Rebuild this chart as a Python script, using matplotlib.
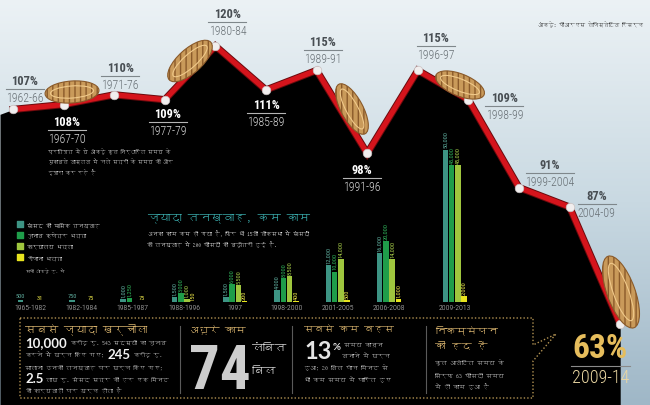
import numpy as np
import matplotlib
matplotlib.use('Agg')
import matplotlib.pyplot as plt
from matplotlib import font_manager, transforms
from matplotlib.ft2font import FT2Font
from matplotlib.colors import LinearSegmentedColormap
from matplotlib.patches import Ellipse

# sitting time vs scheduled time, per Lok Sabha
terms = ['1962-66', '1967-70', '1971-76', '1977-79', '1980-84', '1985-89', '1989-91',
         '1991-96', '1996-97', '1998-99', '1999-2004', '2004-09', '2009-14']
pct = [107, 108, 110, 109, 120, 111, 115, 98, 115, 109, 91, 87, 63]

# MP pay and allowances (Rs.)
periods = ['1965-1982', '1982-1984', '1985-1987', '1988-1996', '1997',
           '1998-2000', '2001-2005', '2006-2008', '2009-2013']
salary = [500, 750, 1000, 1500, 1500, 4000, 12000, 16000, 50000]
constituency = [0, 0, 1250, 3000, 6000, 8000, 10000, 20000, 45000]
office = [0, 0, 0, 1000, 5500, 8500, 14000, 14000, 45000]
daily = [31, 75, 75, 150, 200, 400, 500, 1000, 2000]
series_names = ['सांसद की मासिक तनख्वाह', 'चुनाव क्षेत्र भत्ता', 'कार्यालय भत्ता', 'रोजाना भत्ता']


def find_font(cp):
    # first installed font that has the glyph
    for f in font_manager.fontManager.ttflist:
        try:
            if FT2Font(f.fname).get_char_index(cp):
                return f.name
        except Exception:
            continue
    return None


def pick_condensed():
    names = {f.name for f in font_manager.fontManager.ttflist}
    for n in ['Liberation Sans Narrow', 'Roboto Condensed', 'Open Sans Condensed',
              'DejaVu Sans Condensed', 'Noto Sans Condensed']:
        if n in names:
            return n, 'normal'
    for n in ['Noto Sans', 'DejaVu Sans', 'Open Sans', 'Roboto']:
        for f in font_manager.fontManager.ttflist:
            if f.name == n and 'condensed' in str(f.stretch):
                return n, 'condensed'
    return 'Roboto', 'normal'


deva = find_font(0x0915)
HI = [deva, 'DejaVu Sans'] if deva else ['DejaVu Sans']
cname, cstretch = pick_condensed()
NARROW = dict(family=[cname, 'DejaVu Sans'], fontstretch=cstretch)

W, H = 650, 406
fig = plt.figure(figsize=(6.5, 4.06), dpi=100)

# sky
bg = fig.add_axes([0, 0, 1, 1])
bg.set_zorder(0)
sky = LinearSegmentedColormap.from_list('sky', ['#ecf2f5', '#c9d9e2', '#9fb7c7'])
bg.imshow(np.linspace(0, 1, 256)[:, None], cmap=sky, aspect='auto', extent=[0, W, H, 0])
bg.set_xlim(0, W)
bg.set_ylim(H, 0)
bg.axis('off')

# line chart
ax = fig.add_axes([0, 0, 1, 1])
ax.set_zorder(1)
ax.patch.set_alpha(0)
ax.axis('off')
x0, xstep, y0, ystep = 13, 50.6, 47, 4.88
ax.set_xlim(-x0 / xstep, (W - x0) / xstep)
ax.set_ylim(120 - (H - y0) / ystep, 120 + y0 / ystep)
xi = np.arange(len(pct))
ax.fill_between(np.r_[ax.get_xlim()[0], xi], np.r_[pct[0] - 1, pct], ax.get_ylim()[0],
                color='black', lw=0)
ax.plot(xi, pct, color='#6a0a0d', lw=5.2, solid_joinstyle='miter', zorder=3)
ax.plot(xi, pct, color='#d5141c', lw=3.8, solid_joinstyle='miter', zorder=4)
ax.scatter(xi, pct, s=38, color='#f1eeee', edgecolor='#c9c2c2', lw=0.5, zorder=6)

lab_off = [(12, -20), (3, 25), (6, -19), (3, 22), (12, -24), (0, 23), (6, -20),
           (-5, 25), (18, -24), (36, 6), (31, -15), (27, -3), (-20, 42)]
style = ['d', 'l', 'd', 'l', 'd', 'l', 'd', 'l', 'd', 'd', 'd', 'd', 'g']
cols = {'d': ('#484e53', '#687075', '#7f878b', 9, 8.5),
        'l': ('#ffffff', '#d9d9d9', '#b5b5b5', 9, 8.5),
        'g': ('#e6bd5c', '#ead7a2', '#8a8a8a', 24, 13)}
for i, (t, p) in enumerate(zip(terms, pct)):
    dx, dy = lab_off[i]
    c_pct, c_yr, c_ul, s_pct, s_yr = cols[style[i]]
    ax.annotate(f'{p}%', (i, p), xytext=(dx, -dy + 2), textcoords='offset pixels', ha='center',
                va='bottom', fontsize=s_pct, fontweight='bold', color=c_pct, zorder=7, **NARROW)
    ax.annotate(t, (i, p), xytext=(dx, -dy - 2), textcoords='offset pixels', ha='center',
                va='top', fontsize=s_yr, fontweight='light', color=c_yr, zorder=7, **NARROW)
    hw = (len(t) * (5.0 if style[i] != 'g' else 8.0) + 3) / 2 / xstep
    tr = transforms.offset_copy(ax.transData, fig=fig, x=dx, y=-dy, units='dots')
    ax.plot([i - hw, i + hw], [p, p], transform=tr, color=c_ul, lw=0.8, zorder=7)

# bars
bx = fig.add_axes([0, 0, 1, 1])
bx.set_zorder(2)
bx.patch.set_alpha(0)
bx.axis('off')
base, bscale, g0, gstep = 303, 0.00305, 30, 51.3
bx.set_xlim(-g0 / gstep, (W - g0) / gstep)
bx.set_ylim(-(H - base) / bscale, base / bscale)
gpos = np.arange(len(periods), dtype=float)
gpos[-1] += 0.28
bar_cols = ['#3d9484', '#1f9d4a', '#9fc63e', '#e8e41e']
lab_cols = ['#5fae9f', '#2fb35a', '#a9cf4a', '#eee84a']
slot, bw = 0.122, 0.108
for k, vals in enumerate([salary, constituency, office, daily]):
    off = (k - 1.5) * slot
    for g, v in enumerate(vals):
        if not v:
            continue
        bx.bar(gpos[g] + off, v, bw, color=bar_cols[k], lw=0)
        rot = 0 if (g < 3 and v < 1000) else 90
        bx.annotate(f'{v:,}', (gpos[g] + off, v), xytext=(0, 2), textcoords='offset pixels',
                    ha='center', va='bottom', rotation=rot, fontsize=4.6, color=lab_cols[k], **NARROW)
for g, p in zip(gpos, periods):
    bx.annotate(p, (g, 0), xytext=(0, -2), textcoords='offset pixels', ha='center', va='top',
                fontsize=5.6, fontweight='light', color='#cccccc', **NARROW)

# overlay: text and decoration in pixel space
tx = fig.add_axes([0, 0, 1, 1])
tx.set_zorder(3)
tx.patch.set_alpha(0)
tx.set_xlim(0, W)
tx.set_ylim(H, 0)
tx.axis('off')

for cx, cy, w, h, a in [(72, 93, 54, 22, -4), (190, 62, 56, 24, -42), (352, 110, 56, 22, 62),
                        (460, 86, 52, 22, 22), (621, 293, 76, 28, 70)]:
    tx.add_patch(Ellipse((cx, cy), w, h, angle=a, fc='#c99a5a', ec='#8a5a2a', lw=0.8, hatch='|||'))
    tx.add_patch(Ellipse((cx, cy), w * 0.8, h * 0.55, angle=a, fc='none', ec='#f0c98a', lw=0.8))

tx.text(643, 25, 'आंकड़े: पीआरएस लेजिस्लेटिव रिसर्च', ha='right', va='center', fontsize=3.8,
        family=HI, color='#222222')

for j, line in enumerate(['प्रतिशत में ये आंकड़े कुल निर्धारित समय के',
                          'मुकाबले वास्तव में चले सत्रों के समय की ओर',
                          'इशारा कर रहे हैं']):
    tx.text(48, 152 + j * 10.5, line, va='center', fontsize=3.6, family=HI, color='#e8e8e8')

# legend
for j, name in enumerate(series_names):
    y = 225 + j * 11
    tx.scatter(20, y, s=14, marker='s', color=bar_cols[j])
    tx.text(27, y, name, va='center', fontsize=3.9, family=HI, color='#f0f0f0')
tx.text(25, 271, 'सभी आंकड़े रु. में', va='center', fontsize=3.2, style='italic', family=HI,
        color='#dddddd')

tx.text(147, 218, 'ज्यादा तनख्वाह, कम काम', va='center', fontsize=8.4, family=HI, color='#39a9aa')
tx.text(147, 234, 'अनका काम कम हो गया है, फिर भी 15वीं लोकसभा में सांसदों', va='center',
        fontsize=3.9, family=HI, color='#f0f0f0')
tx.text(147, 245, 'की तनख्वाह में 200 फीसदी की बढ़ोतरी हुई है.', va='center',
        fontsize=3.9, family=HI, color='#f0f0f0')

# bottom panel frame with pointer
frame = [(20, 319), (533, 319), (533, 346), (556, 335), (533, 362), (533, 399), (20, 399), (20, 319)]
tx.plot(*zip(*frame), color='#b39353', lw=1, ls=(0, (1, 1.5)))
for sx in [180, 292, 426]:
    tx.plot([sx, sx], [327, 394], color='#5a5a5a', lw=0.8)

GOLD = '#d9b46e'
BODY = '#d6d6d6'
r = fig.canvas.get_renderer()


def runs(x, y, parts, gap=3):
    for s, big in parts:
        if big:
            t = tx.text(x, y, s, va='center', fontsize=9.5, fontweight='bold',
                        family=['Lato', 'DejaVu Sans'], color='#f2f2f2')
        else:
            t = tx.text(x, y, s, va='center', fontsize=4.2, family=HI, color=BODY)
        x += t.get_window_extent(r).width + gap
    return x


tx.text(25, 329, 'सबसे ज्यादा खर्चीला', va='center', fontsize=8, family=HI, color=GOLD)
runs(25, 343, [('10,000', True), ('करोड़ रु. 543 सदस्यों का चुनाव', False)])
runs(25, 355, [('करने में खर्च किए गए;', False), ('245', True), ('करोड़ रु.', False)])
runs(25, 367, [('सालाना उनकी तनख्वाह पर खर्च किए गए;', False)])
runs(25, 379, [('2.5', True), ('लाख रु. संसद सत्र की हर एक मिनट', False)])
runs(25, 391, [('की कार्यवाही पर खर्च होता है', False)])

tx.text(188, 330, 'अधूरे काम', va='center', fontsize=7.6, family=HI, color=GOLD)
tx.text(189, 372, '74', va='center', fontsize=44, fontweight='bold', color='#cdcdcd', **NARROW)
tx.text(252, 349, 'लंबित', va='center', fontsize=8.5, family=HI, color='#d8d8d8')
tx.text(252, 372, 'बिल', va='center', fontsize=8.5, family=HI, color='#d8d8d8')

tx.text(304, 330, 'सबसे कम बहस', va='center', fontsize=7.2, family=HI, color=GOLD)
t13 = tx.text(304, 352, '13', va='center', fontsize=17, fontweight='bold',
              family=['Lato', 'DejaVu Sans'], color='#e4e4e4')
xp = 304 + t13.get_window_extent(r).width + 1
tx.text(xp, 348, '%', va='center', fontsize=7, fontweight='bold', family=['Lato', 'DejaVu Sans'],
        color='#e4e4e4')
tx.text(344, 345, 'समय कानून', va='center', fontsize=4.3, family=HI, color=BODY)
tx.text(342, 356, 'बनाने में खर्च', va='center', fontsize=4.3, family=HI, color=BODY)
tx.text(304, 368, 'हुआ; 20 बिल पांच मिनट से', va='center', fontsize=4.3, family=HI, color=BODY)
tx.text(304, 380, 'भी कम समय में पारित हुए', va='center', fontsize=4.3, family=HI, color=BODY)

tx.text(435, 330, 'निकम्मेपन', va='center', fontsize=7.6, family=HI, color=GOLD)
tx.text(435, 347, 'की हद है', va='center', fontsize=7.6, family=HI, color=GOLD)
for j, line in enumerate(['कुल आवंटित समय के', 'सिर्फ 63 फीसदी समय', 'में ही काम हुआ है']):
    tx.text(435, 363 + j * 12, line, va='center', fontsize=4.3, family=HI, color=BODY)

fig.savefig('out.png', dpi=100)
